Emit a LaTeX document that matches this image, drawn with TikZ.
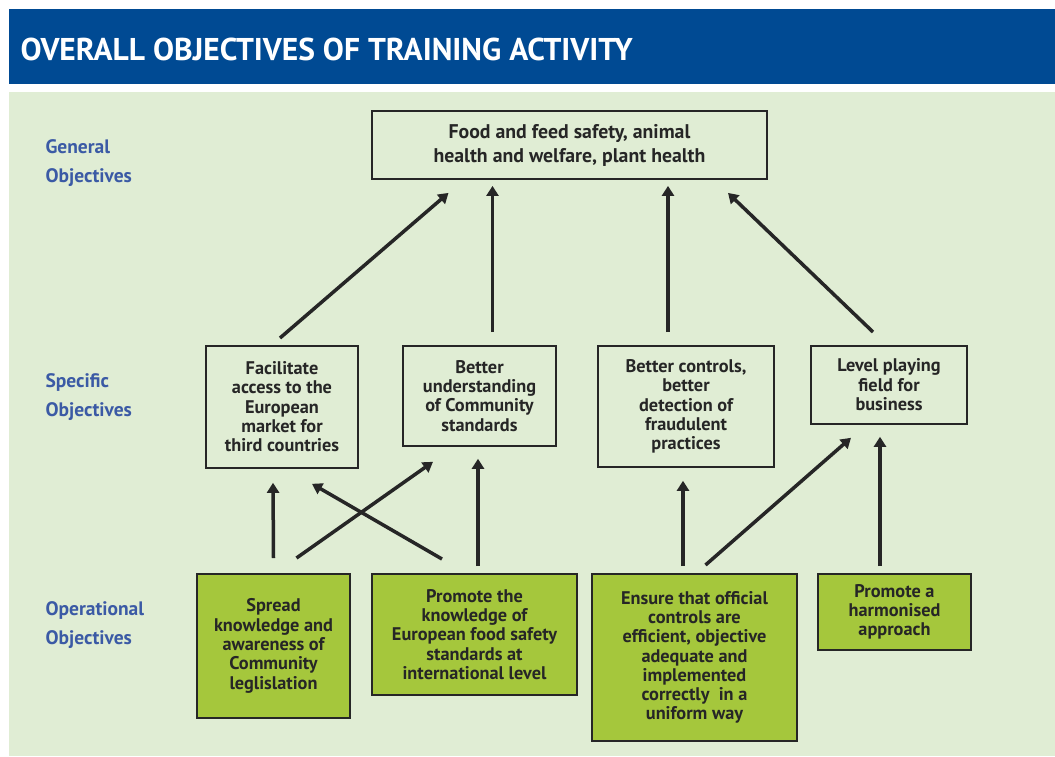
\documentclass[tikz,border=0pt]{standalone}
\usepackage{fontspec}
\setmainfont{PT Sans}
\newfontfamily\titlefont{PT Sans}
\usetikzlibrary{arrows.meta,positioning}

\definecolor{headblue}{RGB}{0,74,147}
\definecolor{paleback}{RGB}{224,237,212}
\definecolor{opgreen}{RGB}{165,199,60}
\definecolor{lblblue}{RGB}{59,90,165}

\begin{document}
\begin{tikzpicture}[x=1pt,y=-1pt,
    every node/.style={font=\bfseries\fontsize{18.3}{19.3}\selectfont,text=black!85,align=center},
    goalbox/.style={draw=black!85,line width=1.8pt,inner sep=2pt},
    opbox/.style={goalbox,fill=opgreen},
    levellbl/.style={anchor=north west,align=left,text=lblblue,font=\bfseries\fontsize{19.5}{29}\selectfont},
    uparr/.style={draw=black!85,line width=3.5pt,-{Triangle[length=10pt,width=12pt]}}]
  \useasboundingbox[fill=white] (0,0) rectangle (1055,756);
  % Frame
  \fill[headblue] (9,9) rectangle (1055,84);
  \fill[paleback] (9,92) rectangle (1055,756);
  \node[anchor=base west,text=white,font=\titlefont\bfseries\fontsize{31.5}{31.5}\selectfont] (title) at (17,60) {OVERALL OBJECTIVES OF TRAINING ACTIVITY};

  % Levels
  \node[levellbl] (lgen) at (42,136) {General\\Objectives};
  \node[levellbl] (lspec) at (42,370) {Specific\\Objectives};
  \node[levellbl] (lop) at (42,598) {Operational\\Objectives};

  % General objective
  \node[goalbox,minimum width=395,minimum height=68,font=\bfseries\fontsize{19.8}{24}\selectfont] (gen) at (569.5,145)
    {Food and feed safety, animal\\health and welfare, plant health};

  % Specific objectives
  \node[goalbox,anchor=north,minimum width=152,minimum height=122] (spec1) at (282,345)
    {Facilitate\\access to the\\European\\market for\\third countries};
  \node[goalbox,anchor=north,minimum width=153,minimum height=100] (spec2) at (479.5,345)
    {Better\\understanding\\of Community\\standards};
  \node[goalbox,anchor=north,minimum width=176,minimum height=121] (spec3) at (686,345)
    {Better controls,\\better\\detection of\\fraudulent\\practices};
  \node[goalbox,anchor=north,minimum width=156,minimum height=78] (spec4) at (889,345)
    {Level playing\\field for\\business};

  % Operational objectives
  \node[opbox,anchor=north,minimum width=153,minimum height=144] (op1) at (273.5,573)
    {Spread\\knowledge and\\awareness of\\Community\\leglislation};
  \node[opbox,anchor=north,minimum width=205,minimum height=121] (op2) at (474.5,573)
    {Promote the\\knowledge of\\European food safety\\standards at\\international level};
  \node[opbox,anchor=north,minimum width=205,minimum height=167] (op3) at (694.5,573)
    {Ensure that official\\controls are\\efficient, objective\\adequate and\\implemented\\correctly~ in a\\uniform way};
  \node[opbox,anchor=north,minimum width=153,minimum height=76] (op4) at (894.5,573)
    {Promote a\\harmonised\\approach};

  % Specific -> general
  \draw[uparr] ([shift={(-2,-7)}]spec1.north) -- ([shift={(-121,13)}]gen.south);
  \draw[uparr] ([shift={(13,-13)}]spec2.north) -- ([shift={(-77,6)}]gen.south);
  \draw[uparr] ([shift={(-18,-13)}]spec3.north) -- ([shift={(98.5,6)}]gen.south);
  \draw[uparr] ([shift={(-16,-13)}]spec4.north) -- ([shift={(158.5,13)}]gen.south);

  % Operational -> specific
  \draw[uparr] ([shift={(0,-15)}]op1.north) -- ([shift={(-9,14)}]spec1.south);
  \draw[uparr] ([shift={(23,-15)}]op1.north) -- ([shift={(-46.5,15)}]spec2.south);
  \draw[uparr] ([shift={(-32.5,-14)}]op2.north) -- ([shift={(30,15)}]spec1.south);
  \draw[uparr] ([shift={(3.5,-7)}]op2.north) -- ([shift={(-1.5,12)}]spec2.south);
  \draw[uparr] ([shift={(-11.5,-7)}]op3.north) -- ([shift={(-3,13)}]spec3.south);
  \draw[uparr] ([shift={(11,-8)}]op3.north) -- ([shift={(-38,13)}]spec4.south);
  \draw[uparr] ([shift={(-14.5,-7)}]op4.north) -- ([shift={(-9,12)}]spec4.south);
\end{tikzpicture}
\end{document}
